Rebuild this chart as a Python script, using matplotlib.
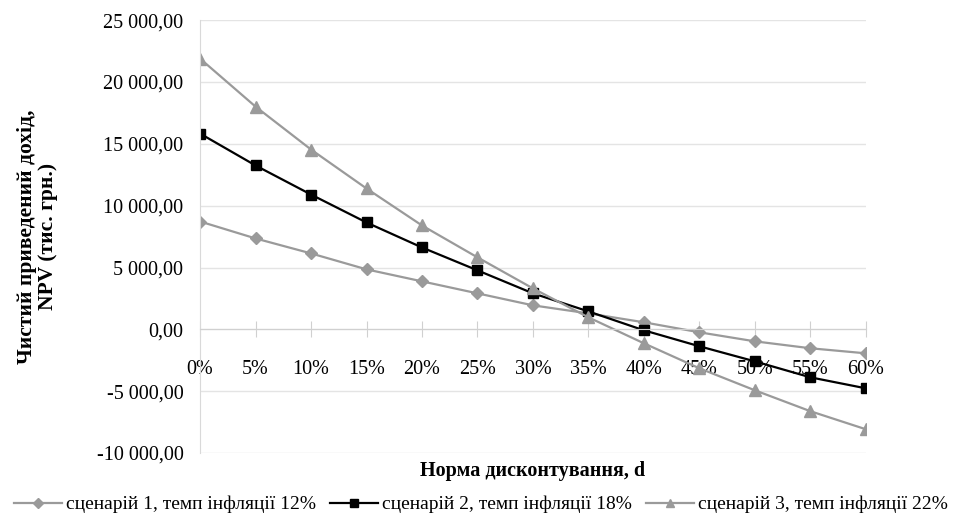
import matplotlib.pyplot as plt
from matplotlib.ticker import FuncFormatter

# data
rates = ['0%', '5%', '10%', '15%', '20%', '25%', '30%', '35%', '40%', '45%', '50%', '55%', '60%']
npv_s1 = [8720, 7350, 6140, 4850, 3880, 2910, 1940, 1290, 570, -240, -970, -1530, -1940]
npv_s2 = [15830, 13250, 10900, 8640, 6620, 4770, 2910, 1450, -80, -1370, -2590, -3880, -4770]
npv_s3 = [21890, 18010, 14540, 11390, 8400, 5820, 3310, 970, -1130, -3150, -4930, -6620, -8080]
labels = ['сценарій 1, темп інфляції 12%',
          'сценарій 2, темп інфляції 18%',
          'сценарій 3, темп інфляції 22%']

plt.rcParams['font.family'] = ['Liberation Serif', 'DejaVu Serif']

fig = plt.figure(figsize=(9.62, 5.18), dpi=100)
ax = fig.add_axes([0.208, 0.1255, 0.692, 0.8355])

x = list(range(len(rates)))
grey = '#9a9a9a'
ax.plot(x, npv_s1, color=grey, lw=1.6, marker='D', ms=6, label=labels[0])
ax.plot(x, npv_s2, color='black', lw=1.6, marker='s', ms=7.5, label=labels[1])
ax.plot(x, npv_s3, color=grey, lw=1.6, marker='^', ms=8, label=labels[2])

ax.set_xlim(0, len(rates) - 1)
ax.set_ylim(-10000, 25000)
ax.set_yticks(range(-10000, 25001, 5000))

def fmt(v, pos):
    # 25 000,00 style
    return '{:,.2f}'.format(v).replace(',', ' ').replace('.', ',')
ax.yaxis.set_major_formatter(FuncFormatter(fmt))

ax.set_xticks(x)
ax.set_xticklabels(rates)
ax.grid(axis='y', color='#e4e4e4', lw=1)
ax.set_axisbelow(True)

for s in ['top', 'right']:
    ax.spines[s].set_visible(False)
ax.spines['left'].set_color('#d9d9d9')
ax.spines['bottom'].set_position(('data', 0))
ax.spines['bottom'].set_color('#d0d0d0')
ax.tick_params(axis='y', length=0, labelsize=14.5, pad=12)
ax.tick_params(axis='x', direction='inout', length=12, color='#d0d0d0', labelsize=14.5, pad=16)

ax.set_ylabel('Чистий приведений дохід,\nNPV (тис. грн.)', fontsize=15.5, fontweight='bold',
              linespacing=1.1)
ax.yaxis.set_label_coords(-0.213, 0.5)
ax.set_xlabel('Норма дисконтування, d', fontsize=14.5, fontweight='bold')
ax.xaxis.set_label_coords(0.5, -0.018)

fig.legend(loc='lower center', bbox_to_anchor=(0.5, -0.025), ncol=3, frameon=False,
           fontsize=14, handlelength=2.5, handletextpad=0.2, columnspacing=0.7, markerscale=0.8)

plt.savefig('out.png', dpi=100)
